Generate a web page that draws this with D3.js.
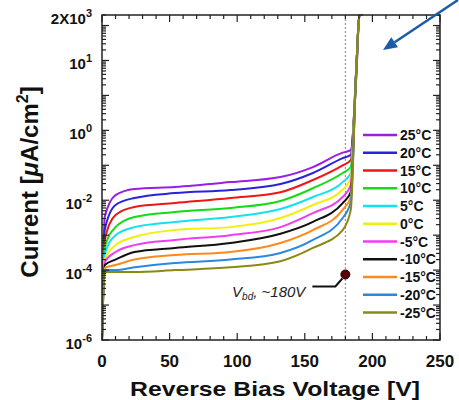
<!DOCTYPE html>
<html>
<head>
<meta charset="utf-8">
<script src="https://cdn.jsdelivr.net/npm/d3@7"></script>
<style>
  body { margin: 0; background: #fff; }
  svg { display: block; }
  text { font-family: Arial, "Liberation Sans", sans-serif; }
</style>
</head>
<body>
<svg width="459" height="400"></svg>
<script>
// ---- data ----
const voltages = [0, 2, 10, 24, 54, 95, 132, 156, 178, 184, 188, 190.5, 193];

const temps = ["25°C", "20°C", "15°C", "10°C", "5°C", "0°C", "-5°C", "-10°C", "-15°C", "-20°C", "-25°C"];

const i25  = [1e-6, 3.3e-3, 1.4e-2, 2.1e-2, 2.4e-2, 3.3e-2, 4.6e-2, 8.9e-2, 0.23, 0.27, 28, 2000, 2000];
const i20  = [1e-6, 1.4e-3, 7.3e-3, 1.16e-2, 1.6e-2, 1.96e-2, 2.9e-2, 6.0e-2, 0.16, 0.20, 38, 2000, 2000];
const i15  = [1e-6, 7.3e-4, 3.8e-3, 6.4e-3, 8.3e-3, 1.16e-2, 1.7e-2, 3.8e-2, 0.10, 0.14, 50, 2000, 2000];
const i10  = [1e-6, 4.3e-4, 1.7e-3, 3.3e-3, 4.6e-3, 6.0e-3, 9.5e-3, 2.2e-2, 6.0e-2, 8.9e-2, 50, 2000, 2000];
const i5   = [1e-6, 2.7e-4, 1.0e-3, 1.7e-3, 2.4e-3, 3.3e-3, 5.6e-3, 1.24e-2, 3.3e-2, 6.0e-2, 50, 2000, 2000];
const i0   = [1e-6, 2.0e-4, 5.2e-4, 8.9e-4, 1.4e-3, 1.7e-3, 3.1e-3, 7.3e-3, 2.0e-2, 4.3e-2, 50, 2000, 2000];
const im5  = [1e-6, 1.7e-4, 3.3e-4, 5.2e-4, 7.3e-4, 1.0e-3, 1.7e-3, 4.3e-3, 1.24e-2, 2.7e-2, 50, 2000, 2000];
const im10 = [1e-6, 1.4e-4, 2.0e-4, 3.3e-4, 4.3e-4, 6.0e-4, 1.1e-3, 2.4e-3, 8.3e-3, 1.7e-2, 50, 2000, 2000];
const im15 = [1e-6, 1.15e-4, 1.4e-4, 2.0e-4, 2.7e-4, 3.3e-4, 6.0e-4, 1.4e-3, 5.3e-3, 1.24e-2, 50, 2000, 2000];
const im20 = [1e-6, 1.0e-4, 1.0e-4, 1.2e-4, 1.6e-4, 2.0e-4, 3.1e-4, 7.3e-4, 3.1e-3, 8.9e-3, 50, 2000, 2000];
const im25 = [1e-6, 8.8e-5, 8.8e-5, 8.8e-5, 1.0e-4, 1.2e-4, 1.8e-4, 4.3e-4, 1.4e-3, 5.3e-3, 50, 2000, 2000];

const xTickValues = [0, 50, 100, 150, 200, 250];
const yTickValues = [1e-6, 1e-4, 1e-2, 1, 1e2, 2e3];
const yTickBase = ["10", "10", "10", "10", "10", "2X10"];
const yTickExp = ["-6", "-4", "-2", "0", "1", "3"];

const vbdVoltage = 180;
const vbdCurrent = 7.5e-5;

// ---- styles ----
const colors = ["#9a1ee6", "#2a22d8", "#ee1515", "#14dc14", "#12e2ee", "#f0f010",
                "#f03cf0", "#111111", "#ff8a1c", "#2a88de", "#8a8a12"];

const series = [i25, i20, i15, i10, i5, i0, im5, im10, im15, im20, im25].map((vals, i) => ({
  name: temps[i],
  color: colors[i],
  points: voltages.map((v, j) => ({ v: v, c: vals[j] }))
}));

const plotLeft = 102, plotRight = 440, plotTop = 15, plotBottom = 340;

const svg = d3.select("svg");
svg.append("rect").attr("width", 459).attr("height", 400).attr("fill", "#fff");

const x = d3.scaleLinear().domain([0, 250]).range([plotLeft, plotRight]);
const y = d3.scaleLog().domain([1e-6, 2e3]).range([plotBottom, plotTop]);

svg.append("clipPath").attr("id", "plot")
  .append("rect")
  .attr("x", plotLeft).attr("y", plotTop - 1)
  .attr("width", plotRight - plotLeft).attr("height", plotBottom - plotTop + 1);

// breakdown marker line
svg.append("line")
  .attr("x1", x(vbdVoltage)).attr("x2", x(vbdVoltage))
  .attr("y1", plotTop).attr("y2", plotBottom)
  .attr("stroke", "#e85a5a")
  .attr("stroke-width", 1)
  .attr("stroke-dasharray", "2,2");

// curves
const line = d3.line()
  .x((d) => x(d.v))
  .y((d) => y(d.c))
  .curve(d3.curveMonotoneX);

svg.append("g")
  .attr("clip-path", "url(#plot)")
  .selectAll("path")
  .data(series)
  .enter()
  .append("path")
  .attr("d", (d) => line(d.points))
  .attr("fill", "none")
  .attr("stroke", (d) => d.color)
  .attr("stroke-width", 2);

// ticks
const ticks = svg.append("g").attr("stroke", "#222").attr("stroke-width", 1.2);

d3.range(0, 251, 10).forEach((v) => {
  const len = v % 50 === 0 ? 7 : 4;
  ticks.append("line").attr("x1", x(v)).attr("x2", x(v)).attr("y1", plotBottom).attr("y2", plotBottom - len);
  ticks.append("line").attr("x1", x(v)).attr("x2", x(v)).attr("y1", plotTop).attr("y2", plotTop + len);
});

d3.range(-6, 4).forEach((d) => {
  d3.range(1, 10).forEach((k) => {
    const v = k * Math.pow(10, d);
    if (v < 1e-6 || v > 2e3) return;
    const len = k === 1 ? 7 : 4;
    ticks.append("line").attr("x1", plotLeft).attr("x2", plotLeft + len).attr("y1", y(v)).attr("y2", y(v));
    ticks.append("line").attr("x1", plotRight).attr("x2", plotRight - len).attr("y1", y(v)).attr("y2", y(v));
  });
});

// frame
svg.append("rect")
  .attr("x", plotLeft).attr("y", plotTop)
  .attr("width", plotRight - plotLeft).attr("height", plotBottom - plotTop)
  .attr("fill", "none")
  .attr("stroke", "#222")
  .attr("stroke-width", 1.5);

// tick labels
svg.append("g").selectAll("text")
  .data(xTickValues)
  .enter()
  .append("text")
  .attr("x", (d) => x(d))
  .attr("y", 367)
  .attr("text-anchor", "middle")
  .attr("font-size", 17)
  .attr("font-weight", "bold")
  .attr("fill", "#111")
  .text((d) => d);

const yLab = svg.append("g").selectAll("text")
  .data(yTickValues)
  .enter()
  .append("text")
  .attr("x", 92)
  .attr("y", (d) => y(d) + 8.5)
  .attr("text-anchor", "end")
  .attr("font-weight", "bold")
  .attr("fill", "#111");
yLab.append("tspan").attr("font-size", 15).text((d, i) => yTickBase[i]);
yLab.append("tspan").attr("font-size", 11).attr("dy", -7).text((d, i) => yTickExp[i]);

// axis titles
svg.append("text")
  .attr("x", 275).attr("y", 396)
  .attr("text-anchor", "middle")
  .attr("font-size", 21)
  .attr("font-weight", "bold")
  .attr("fill", "#111")
  .attr("textLength", 290)
  .attr("lengthAdjust", "spacingAndGlyphs")
  .text("Reverse Bias Voltage [V]");

const yTitle = svg.append("text")
  .attr("transform", "translate(38,182) rotate(-90)")
  .attr("text-anchor", "middle")
  .attr("font-size", 24)
  .attr("font-weight", "bold")
  .attr("fill", "#111");
yTitle.append("tspan").text("Current [");
yTitle.append("tspan").attr("font-style", "italic").text("μ");
yTitle.append("tspan").text("A/cm");
yTitle.append("tspan").attr("font-size", 16).attr("dy", -10).text("2");
yTitle.append("tspan").attr("dy", 10).text("]");

// legend
const legend = svg.append("g").selectAll("g")
  .data(series)
  .enter()
  .append("g")
  .attr("transform", (d, i) => "translate(0," + (135 + i * 17.75) + ")");

legend.append("line")
  .attr("x1", 363).attr("x2", 397)
  .attr("stroke", (d) => d.color)
  .attr("stroke-width", 2.5);

legend.append("text")
  .attr("x", 400).attr("y", 5)
  .attr("font-size", 14)
  .attr("font-weight", "bold")
  .attr("fill", "#111")
  .text((d) => d.name);

// Vbd annotation
const cx = x(vbdVoltage), cy = y(vbdCurrent);
svg.append("polyline")
  .attr("points", [[cx - 3, cy + 4], [cx - 10, cy + 12], [cx - 33, cy + 12]].map((p) => p.join(",")).join(" "))
  .attr("fill", "none")
  .attr("stroke", "#111")
  .attr("stroke-width", 2);
svg.append("circle")
  .attr("cx", cx).attr("cy", cy).attr("r", 4.5)
  .attr("fill", "#5a0008")
  .attr("stroke", "#200");

const vbdText = svg.append("text")
  .attr("x", cx - 40).attr("y", cy + 23)
  .attr("text-anchor", "end")
  .attr("font-size", 15)
  .attr("font-style", "italic")
  .attr("fill", "#222");
vbdText.append("tspan").text("V");
vbdText.append("tspan").attr("font-size", 10).attr("dy", 3).text("bd");
vbdText.append("tspan").attr("dy", -3).text(", ~180V");

// blue pointer arrow
const tail = [458, 0], tip = [383, 50];
const dx = tip[0] - tail[0], dy = tip[1] - tail[1];
const L = Math.hypot(dx, dy), ux = dx / L, uy = dy / L;
const hl = 14, hw = 6;
const base = [tip[0] - ux * hl, tip[1] - uy * hl];
svg.append("line")
  .attr("x1", tail[0]).attr("y1", tail[1])
  .attr("x2", base[0]).attr("y2", base[1])
  .attr("stroke", "#1b5ca6")
  .attr("stroke-width", 2.5);
svg.append("polygon")
  .attr("points", [tip, [base[0] - uy * hw, base[1] + ux * hw], [base[0] + uy * hw, base[1] - ux * hw]]
    .map((p) => p.join(",")).join(" "))
  .attr("fill", "#1b5ca6");
</script>
</body>
</html>
